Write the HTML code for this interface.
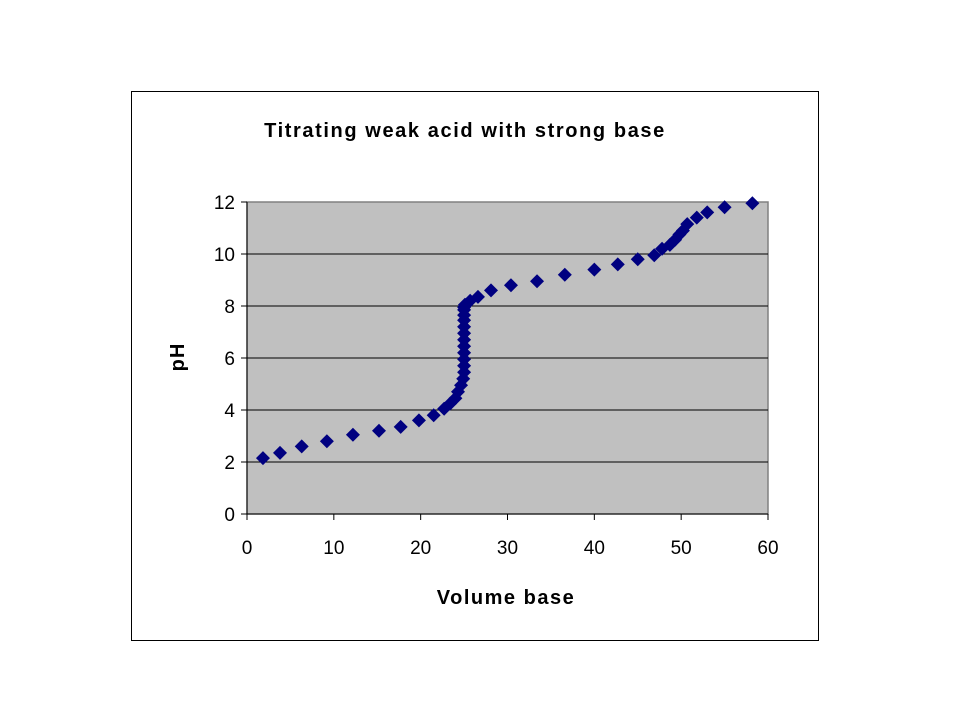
<!DOCTYPE html>
<html><head><meta charset="utf-8"><style>
body{margin:0;background:#fff;width:960px;height:720px;overflow:hidden}
svg text{font-family:"Liberation Sans",Arial,sans-serif}
</style></head><body>
<svg width="960" height="720" viewBox="0 0 960 720">
<rect x="131.5" y="91.5" width="687" height="549" fill="#fff" stroke="#000" stroke-width="1"/>
<text x="465" y="137" text-anchor="middle" font-size="20" font-weight="bold" letter-spacing="1.6">Titrating weak acid with strong base</text>
<rect x="247" y="202" width="521" height="312" fill="#c0c0c0" stroke="#808080" stroke-width="1.5"/>
<g id="grid"></g><g id="axes"></g><g id="pts"></g>
<text x="506" y="604" text-anchor="middle" font-size="20" font-weight="bold" letter-spacing="1.5">Volume base</text>
<text transform="translate(184,357) rotate(-90)" text-anchor="middle" font-size="20" font-weight="bold" letter-spacing="1">pH</text>
</svg>
<script>
const xTicks=[0,10,20,30,40,50,60];
const yTicks=[0,2,4,6,8,10,12];
const volume=[1.84,3.8,6.3,9.2,12.2,15.2,17.7,19.8,21.5,22.7,23.4,24.0,24.3,24.65,24.9,25.0,25.0,25.0,25.0,25.0,25.0,25.0,25.0,25.0,25.0,25.0,25.0,25.1,25.7,26.6,28.1,30.4,33.4,36.6,40.0,42.7,45.0,46.9,47.8,48.7,49.3,49.8,50.2,50.7,51.8,53.0,55.0,58.2];
const pH=[2.15,2.35,2.6,2.8,3.05,3.2,3.35,3.6,3.8,4.05,4.25,4.45,4.7,4.95,5.2,5.45,5.7,5.95,6.2,6.45,6.7,6.95,7.2,7.45,7.65,7.85,7.95,8.05,8.2,8.35,8.6,8.8,8.95,9.2,9.4,9.6,9.8,9.95,10.2,10.35,10.55,10.75,10.9,11.15,11.4,11.6,11.8,11.95];
const NS="http://www.w3.org/2000/svg";
const X0=247,X1=768,Y0=514,Y1=202;
const sx=v=>X0+(v-0)/(60-0)*(X1-X0);
const sy=v=>Y0-(v-0)/(12-0)*(Y0-Y1);
function mk(t,a,p){const e=document.createElementNS(NS,t);for(const k in a)e.setAttribute(k,a[k]);p.appendChild(e);return e;}
const grid=document.getElementById('grid'),axes=document.getElementById('axes'),pts=document.getElementById('pts');
yTicks.forEach(v=>{
 if(v>0&&v<12){const g=mk('line',{x1:X0,x2:X1,y1:sy(v),y2:sy(v),stroke:'#000','stroke-width':1},grid);
 
 }
 mk('line',{x1:X0-6,x2:X0,y1:sy(v),y2:sy(v),stroke:'#000'},axes);
 const t=mk('text',{x:X0-12,y:sy(v)+7,'text-anchor':'end','font-size':19},axes);t.textContent=v;
 
 
});
xTicks.forEach(v=>{
 mk('line',{x1:sx(v),x2:sx(v),y1:Y0,y2:Y0+6,stroke:'#000'},axes);
 const t=mk('text',{x:sx(v),y:Y0+40,'text-anchor':'middle','font-size':19},axes);t.textContent=v;
 
 
});
mk('line',{x1:X0,x2:X0,y1:Y1,y2:Y0,stroke:'#000'},axes);
mk('line',{x1:X0,x2:X1,y1:Y0,y2:Y0,stroke:'#000'},axes);
volume.forEach((v,i)=>{
 const x=sx(v),y=sy(pH[i]),r=7;
 const p=mk('polygon',{points:`${x},${y-r} ${x+r},${y} ${x},${y+r} ${x-r},${y}`,fill:'#000080'},pts);
 
 
});
</script>
</body></html>
